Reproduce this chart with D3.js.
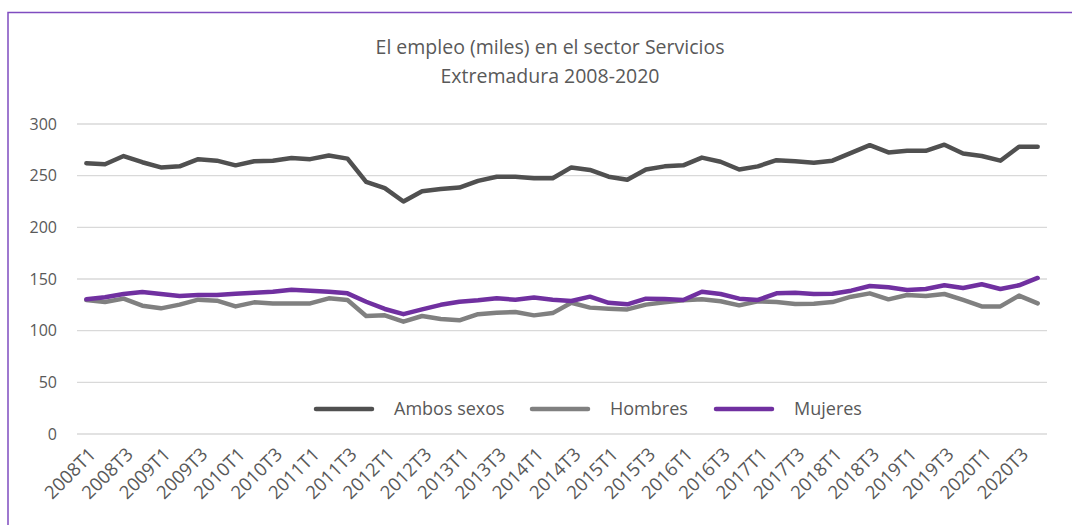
<!DOCTYPE html>
<html>
<head>
<meta charset="utf-8">
<script src="https://cdn.jsdelivr.net/npm/d3@7"></script>
<style>
  body { margin: 0; background: #fff; }
  svg { display: block; font-family: "Open Sans", sans-serif; }
</style>
</head>
<body>
<svg width="1072" height="525"></svg>
<script>
// quarters 2008T1 .. 2020T4
var years = [2008, 2009, 2010, 2011, 2012, 2013, 2014, 2015, 2016, 2017, 2018, 2019, 2020];
var quarters = ["T1", "T2", "T3", "T4"];
var yTicks = [0, 50, 100, 150, 200, 250, 300];

var ambos = [262, 261, 269, 263, 258, 259, 266, 264.5, 260, 264, 264.5, 267, 266, 269.5, 266.5, 244, 238,
  225, 235, 237, 238.5, 245, 249, 249, 247.5, 247.5, 258, 255.5, 249, 246, 256, 259, 260, 267.5, 263.5,
  256, 259, 265, 264, 262.5, 264.5, 272, 279.5, 272.5, 274, 274, 280, 271.5, 269, 264.5, 278, 278];
var hombres = [129.7, 127.7, 131, 124.2, 121.6, 125.2, 130, 129, 123.5, 127.4, 126.4, 126.4, 126.4, 131.3, 129.7, 114.2, 114.8,
  108.7, 114.2, 111.3, 110, 116, 117.4, 118, 114.8, 117, 127, 122.3, 121.3, 120.6, 125.2, 127.4, 129.4, 130.3, 128.4,
  124.5, 128.4, 127.7, 125.8, 126.1, 127.7, 132.9, 136.1, 130.3, 134.5, 133.5, 135.5, 129.7, 123.5, 123.5, 133.9, 126.4];
var mujeres = [130.3, 132.3, 135.5, 137.4, 135.5, 133.5, 134.5, 134.5, 135.8, 136.8, 137.7, 139.7, 138.7, 137.7, 136.1, 128, 121,
  116, 120.6, 125, 128, 129.4, 131.3, 130, 132, 130, 128.7, 132.9, 127, 125.5, 131, 130.6, 129.7, 137.7, 135.5,
  131, 129.7, 136.1, 136.8, 135.5, 135.8, 138.7, 143.2, 142, 139.4, 140.3, 143.9, 141.3, 144.9, 140.3, 143.9, 151];

var seriesNames = ["Ambos sexos", "Hombres", "Mujeres"];
var seriesColors = ["#505050", "#808080", "#7030a0"];

var categories = [];
years.forEach(function(y) {
  quarters.forEach(function(q) { categories.push(y + q); });
});

var svg = d3.select("svg");
var textColor = "#595959";

// outer frame (only top and left visible in the crop)
svg.append("path")
    .attr("d", "M8,530 L8,12.5 L1080,12.5")
    .attr("fill", "none")
    .attr("stroke", "#7f4cc0")
    .attr("stroke-width", 1.5);

var x = d3.scaleBand().domain(categories).range([77, 1047]);
var y = d3.scaleLinear().domain([0, 300]).range([434, 124]);

// gridlines
svg.append("g").selectAll("line")
  .data(yTicks)
  .enter().append("line")
    .attr("x1", 77).attr("x2", 1047)
    .attr("y1", function(d) { return y(d); })
    .attr("y2", function(d) { return y(d); })
    .attr("stroke", "#d9d9d9")
    .attr("stroke-width", 1.3);

// y labels
svg.append("g").selectAll("text")
  .data(yTicks)
  .enter().append("text")
    .attr("x", 57)
    .attr("y", function(d) { return y(d); })
    .attr("dy", "0.35em")
    .attr("text-anchor", "end")
    .attr("fill", textColor)
    .attr("font-size", 16)
    .text(function(d) { return d; });

// x labels, every second quarter
var xLabels = categories.filter(function(c, i) { return i % 2 == 0; });
svg.append("g").selectAll("text")
  .data(xLabels)
  .enter().append("text")
    .attr("transform", function(d) {
      return "translate(" + (x(d) + x.bandwidth() / 2 + 6) + ",451) rotate(-45)";
    })
    .attr("text-anchor", "end")
    .attr("dy", "0.35em")
    .attr("fill", textColor)
    .attr("font-size", 18.5)
    .text(function(d) { return d; });

// lines
var line = d3.line()
    .x(function(d, i) { return x(categories[i]) + x.bandwidth() / 2; })
    .y(function(d) { return y(d); });

[ambos, hombres, mujeres].forEach(function(s, k) {
  svg.append("path")
      .datum(s)
      .attr("fill", "none")
      .attr("stroke", seriesColors[k])
      .attr("stroke-width", 4.5)
      .attr("stroke-linejoin", "round")
      .attr("stroke-linecap", "round")
      .attr("d", line);
});

// title
var title = svg.append("text")
    .attr("text-anchor", "middle")
    .attr("fill", textColor)
    .attr("font-size", 19.5);
title.append("tspan").attr("x", 550).attr("y", 54).text("El empleo (miles) en el sector Servicios");
title.append("tspan").attr("x", 550).attr("y", 83).text("Extremadura 2008-2020");

// legend
var legendX = [316, 532, 716];
var legend = svg.append("g").selectAll("g")
  .data(seriesNames)
  .enter().append("g")
    .attr("transform", function(d, i) { return "translate(" + legendX[i] + ",409)"; });

legend.append("line")
    .attr("x1", 0).attr("x2", 56)
    .attr("stroke", function(d, i) { return seriesColors[i]; })
    .attr("stroke-width", 4.5)
    .attr("stroke-linecap", "round");

legend.append("text")
    .attr("x", 78)
    .attr("dy", "0.35em")
    .attr("fill", textColor)
    .attr("font-size", 18)
    .text(function(d) { return d; });
</script>
</body>
</html>
